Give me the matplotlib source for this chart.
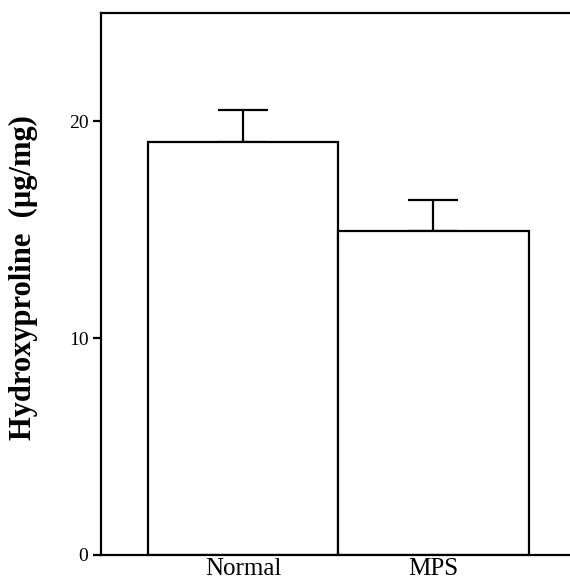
import matplotlib.pyplot as plt

# Hydroxyproline content per group (bar height) and upper error
groups = ['Normal', 'MPS']
means = [19.05, 14.95]
errors = [1.45, 1.4]
y_ticks = [0, 10, 20]

plt.rcParams['font.family'] = ['Liberation Serif', 'DejaVu Serif']

fig = plt.figure(figsize=(5.70, 5.84), dpi=100)
ax = fig.add_axes([0.177, 0.05, 0.823, 0.928])

positions = list(range(len(groups)))
ax.bar(positions, means, width=1.0, color='white', edgecolor='black',
       linewidth=1.6, zorder=2)
ax.errorbar(positions, means, yerr=[[0] * len(errors), errors], fmt='none',
            ecolor='black', elinewidth=1.6, capsize=18, capthick=1.6, zorder=1)

ax.set_xlim(-0.747, 1.718)
ax.set_ylim(0, 25)
ax.set_xticks(positions)
ax.set_xticklabels(groups, fontsize=18)
ax.set_yticks(y_ticks)
ax.set_yticklabels([str(t) for t in y_ticks], fontsize=14)
ax.tick_params(axis='x', length=0, pad=2)
ax.tick_params(axis='y', length=6, width=1.6, pad=3)

ax.spines['right'].set_visible(False)
for side in ['left', 'top', 'bottom']:
    ax.spines[side].set_linewidth(1.6)

ax.set_ylabel('Hydroxyproline  (\u00b5g/mg)', fontsize=22, fontweight='bold')
ax.yaxis.set_label_coords(-0.133, 0.512)

fig.savefig('out.png', dpi=100)
